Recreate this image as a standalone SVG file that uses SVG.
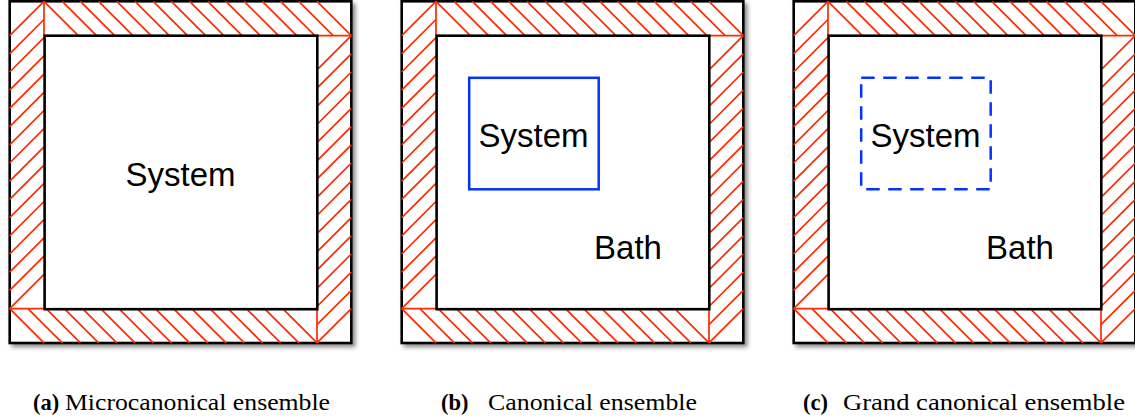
<svg xmlns="http://www.w3.org/2000/svg" xmlns:xlink="http://www.w3.org/1999/xlink" width="1135" height="419" viewBox="0 0 1135 419">
<style>
.outer{fill:#fff;stroke:#000;stroke-width:2.6;filter:url(#sh)}
.inner{fill:#fff;stroke:#000;stroke-width:2.6}
.hatch{fill:none;stroke:#ff2a00;stroke-width:1.7}
.sys{fill:none;stroke:#0433ff;stroke-width:2.5}
.dash{stroke-dasharray:13.5 8.5}
.lbl{font-family:"Liberation Sans",Arial,sans-serif;font-size:33px;fill:#000;text-anchor:middle}
.cap{font-family:"Liberation Serif","Times New Roman",serif;font-size:22.5px;fill:#000}
.b{font-weight:bold}
</style>
<defs>
<filter id="sh" x="-5%" y="-5%" width="115%" height="115%">
<feDropShadow dx="3" dy="3" stdDeviation="2" flood-color="#000" flood-opacity="0.45"/>
</filter>
<g id="frame">
<rect class="outer" x="0" y="0" width="341.6" height="341.7"/>
<path class="hatch" d="M34.3 0l34.3 34.3m-16.1 -34.3l34.3 34.3m-16.1 -34.3l34.3 34.3m-16.1 -34.3l34.3 34.3m-16.1 -34.3l34.3 34.3m-16.1 -34.3l34.3 34.3m-16.1 -34.3l34.3 34.3m-16.1 -34.3l34.3 34.3m-16.1 -34.3l34.3 34.3m-16.1 -34.3l34.3 34.3m-16.1 -34.3l34.3 34.3m-16.1 -34.3l34.3 34.3m-16.1 -34.3l34.3 34.3m-16.1 -34.3l34.3 34.3m-16.1 -34.3l34.3 34.3m-16.1 -34.3l34.3 34.3"/>
<path class="hatch" d="M34.3 0l-34.3 34.3m34.3 -16.1l-34.3 34.3m34.3 -16.1l-34.3 34.3m34.3 -16.1l-34.3 34.3m34.3 -16.1l-34.3 34.3m34.3 -16.1l-34.3 34.3m34.3 -16.1l-34.3 34.3m34.3 -16.1l-34.3 34.3m34.3 -16.1l-34.3 34.3m34.3 -16.1l-34.3 34.3m34.3 -16.1l-34.3 34.3m34.3 -16.1l-34.3 34.3m34.3 -16.1l-34.3 34.3m34.3 -16.1l-34.3 34.3m34.3 -16.1l-34.3 34.3m34.3 -16.1l-34.3 34.3"/>
<path class="hatch" d="M0 307.3l34.3 34.3m-16.1 -34.3l34.3 34.3m-16.1 -34.3l34.3 34.3m-16.1 -34.3l34.3 34.3m-16.1 -34.3l34.3 34.3m-16.1 -34.3l34.3 34.3m-16.1 -34.3l34.3 34.3m-16.1 -34.3l34.3 34.3m-16.1 -34.3l34.3 34.3m-16.1 -34.3l34.3 34.3m-16.1 -34.3l34.3 34.3m-16.1 -34.3l34.3 34.3m-16.1 -34.3l34.3 34.3m-16.1 -34.3l34.3 34.3m-16.1 -34.3l34.3 34.3m-16.1 -34.3l34.3 34.3"/>
<path class="hatch" d="M341.6 307.3l-34.3 34.3m34.3 -52.5l-34.3 34.3m34.3 -52.5l-34.3 34.3m34.3 -52.5l-34.3 34.3m34.3 -52.5l-34.3 34.3m34.3 -52.5l-34.3 34.3m34.3 -52.5l-34.3 34.3m34.3 -52.5l-34.3 34.3m34.3 -52.5l-34.3 34.3m34.3 -52.5l-34.3 34.3m34.3 -52.5l-34.3 34.3m34.3 -52.5l-34.3 34.3m34.3 -52.5l-34.3 34.3m34.3 -52.5l-34.3 34.3m34.3 -52.5l-34.3 34.3m34.3 -52.5l-34.3 34.3"/>
<path class="hatch" d="M34.3 0V34.3M307.3 34.3H341.6M307.3 307.3V341.6M0 307.3H34.3"/>
<rect class="inner" x="34.9" y="34.4" width="272.7" height="273.5"/>
</g>
</defs>
<g id="panel-a">
<use xlink:href="#frame" x="9.7" y="1.3"/>
<text class="lbl" x="180.5" y="186">System</text>
</g>
<g id="panel-b">
<use xlink:href="#frame" x="401.7" y="1.3"/>
<rect id="system-b" class="sys" x="469.2" y="77.8" width="129.5" height="111.5"/>
<text class="lbl" x="533.5" y="147">System</text>
<text class="lbl" x="628" y="259">Bath</text>
</g>
<g id="panel-c">
<use xlink:href="#frame" x="793.7" y="1.3"/>
<rect id="system-c" class="sys dash" x="861.2" y="77.8" width="129.5" height="111.5"/>
<text class="lbl" x="925.5" y="147">System</text>
<text class="lbl" x="1020" y="259">Bath</text>
</g>
<g id="captions">
<text class="cap b" x="33" y="410">(a)</text>
<text class="cap" x="65" y="410" textLength="265" lengthAdjust="spacingAndGlyphs">Microcanonical ensemble</text>
<text class="cap b" x="441" y="410">(b)</text>
<text class="cap" x="488" y="410" textLength="209" lengthAdjust="spacingAndGlyphs">Canonical ensemble</text>
<text class="cap b" x="803" y="410">(c)</text>
<text class="cap" x="843" y="410" textLength="282" lengthAdjust="spacingAndGlyphs">Grand canonical ensemble</text>
</g>
</svg>
